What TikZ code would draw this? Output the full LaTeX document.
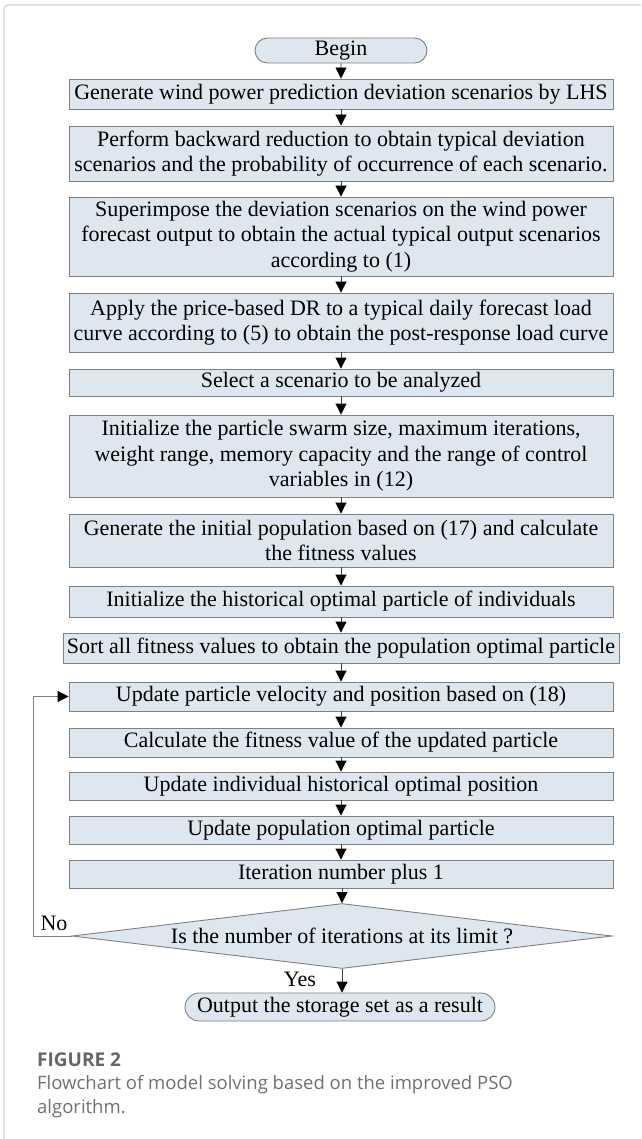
\documentclass[tikz,border=0pt]{standalone}
\usepackage{fontspec}
\setmainfont{Liberation Serif}
\newfontfamily\capfont{Open Sans}
\usetikzlibrary{arrows.meta,shapes.geometric,shapes.misc}
\definecolor{boxfill}{HTML}{DEE6F0}
\definecolor{boxdraw}{HTML}{808080}
\definecolor{linegray}{HTML}{3A3A3A}
\definecolor{capgray}{HTML}{707070}
\definecolor{figgray}{HTML}{666666}
\definecolor{framegray}{HTML}{D2D2D2}
\tikzset{
  proc/.style={draw=boxdraw, fill=boxfill, line width=0.9pt, minimum width=544pt,
    inner sep=0pt, align=center, font=\fontsize{22}{25.5}\selectfont, text=black},
  term/.style={proc, rounded rectangle, minimum height=25pt},
  dec/.style={proc, diamond, aspect=8.3, minimum width=540pt, minimum height=65pt},
  arr/.style={draw=linegray, line width=0.9pt, -{Triangle[width=11pt,length=11pt,color=black]}},
  loopline/.style={draw=boxdraw, line width=0.9pt, -{Triangle[width=11pt,length=11pt,color=black]}},
  lbl/.style={inner sep=0pt, font=\fontsize{22}{24}\selectfont},
  capstyle/.style={inner sep=0pt, anchor=base west, text=capgray, font=\capfont\fontsize{18.5}{22}\selectfont}
}
\begin{document}
\begin{tikzpicture}[x=1pt,y=-1pt]
\useasboundingbox (0,0) rectangle (641,1139);
\draw[framegray, line width=1.2pt, rounded corners=4pt] (641,5) -- (4,5) -- (4,1139);

\node[term, minimum width=172pt] (begin) at (341,50.5) {Begin};
\node[proc, minimum height=30pt] (b1) at (341,94) {Generate wind power prediction deviation scenarios by LHS};
\node[proc, minimum height=55pt] (b2) at (341,153.5) {Perform backward reduction to obtain typical deviation\\scenarios and the probability of occurrence of each scenario.};
\node[proc, minimum height=79pt] (b3) at (341,236.5) {Superimpose the deviation scenarios on the wind power\\forecast output to obtain the actual typical output scenarios\\according to (1)};
\node[proc, minimum height=59pt] (b4) at (341,322.5) {Apply the price-based DR to a typical daily forecast load\\curve according to (5) to obtain the post-response load curve};
\node[proc, minimum height=27pt] (b5) at (341,382.5) {Select a scenario to be analyzed};
\node[proc, minimum height=82pt] (b6) at (341,456) {Initialize the particle swarm size, maximum iterations,\\weight range, memory capacity and the range of control\\variables in (12)};
\node[proc, minimum height=53pt] (b7) at (341,540.5) {Generate the initial population based on (17) and calculate\\the fitness values};
\node[proc, minimum height=31pt] (b8) at (341,601.5) {Initialize the historical optimal particle of individuals};
\node[proc, minimum height=30pt, minimum width=556pt] (b9) at (341,648) {Sort all fitness values to obtain the population optimal particle};
\node[proc, minimum height=29pt] (b10) at (341,696.5) {Update particle velocity and position based on (18)};
\node[proc, minimum height=29pt] (b11) at (341,742.5) {Calculate the fitness value of the updated particle};
\node[proc, minimum height=28pt] (b12) at (341,786) {Update individual historical optimal position};
\node[proc, minimum height=28pt] (b13) at (341,830) {Update population optimal particle};
\node[proc, minimum height=28pt] (b14) at (341,874) {Iteration number plus 1};
\node[dec] (dec) at (342,936) {Is the number of iterations at its limit ?};
\node[term, minimum width=310pt, minimum height=28pt] (out) at (340,1007) {Output the storage set as a result};

\draw[arr] (begin) -- (b1);
\draw[arr] (b1) -- (b2);
\draw[arr] (b2) -- (b3);
\draw[arr] (b3) -- (b4);
\draw[arr] (b4) -- (b5);
\draw[arr] (b5) -- (b6);
\draw[arr] (b6) -- (b7);
\draw[arr] (b7) -- (b8);
\draw[arr] (b8) -- (b9);
\draw[arr] (b9) -- (b10);
\draw[arr] (b10) -- (b11);
\draw[arr] (b11) -- (b12);
\draw[arr] (b12) -- (b13);
\draw[arr] (b13) -- (b14);
\draw[arr] (b14.south -| dec.north) -- (dec.north);
\draw[arr] (dec.south) -- (dec.south |- out.north);
\coordinate (lc) at (33,936);
\draw[loopline] (dec.west) -- (lc) |- (b10.west);

\node[lbl] (no) at (54,923) {No};
\node[lbl] (yes) at (300,979) {Yes};

\node[capstyle, text=figgray, font=\capfont\bfseries\fontsize{19}{22}\selectfont] (fig) at (37,1066) {FIGURE 2};
\node[capstyle] (c1) at (37,1089) {Flowchart of model solving based on the improved PSO};
\node[capstyle] (c2) at (37,1113) {algorithm.};
\end{tikzpicture}
\end{document}
